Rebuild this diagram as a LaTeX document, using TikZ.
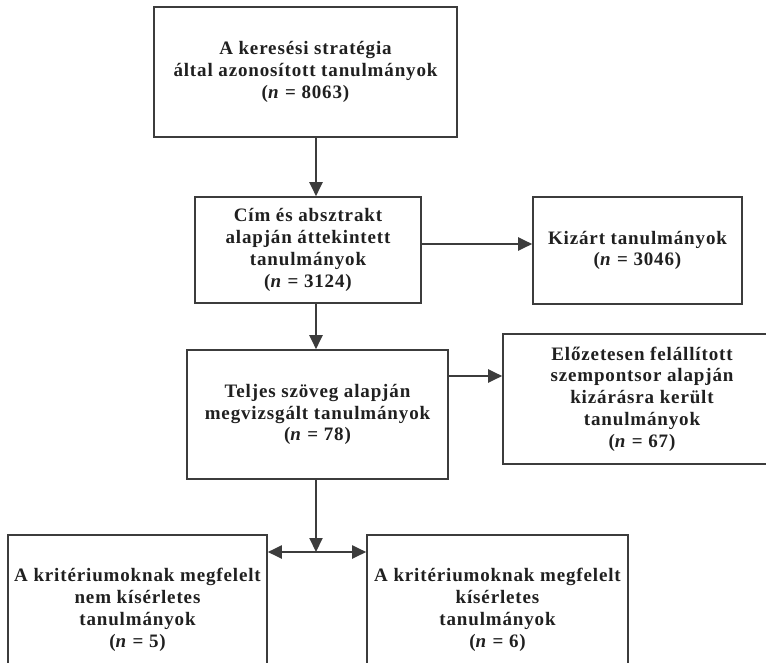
\documentclass[tikz,border=0pt]{standalone}
\usepackage{fontspec}
\setmainfont{Liberation Serif}[LetterSpace=4.5]
\usepackage{tikz}
\usetikzlibrary{calc,arrows.meta,positioning}
\usepackage{xcolor}
\definecolor{linegray}{HTML}{3C3C3C}
\definecolor{textgray}{HTML}{202020}

\begin{document}
\begin{tikzpicture}
	[   x=1pt,y=-1pt,
		fbox/.style args={#1/#2}{draw=linegray,line width=1.6pt,fill=white,align=center,text=textgray,
			minimum width=#1,minimum height=#2,inner sep=0pt,font=\fontsize{19}{21.8}\selectfont\bfseries},
	]
	\tikzset{normal arrow/.style={draw=linegray,line width=2pt,-{Triangle[length=14pt,width=13pt]}}}
	\useasboundingbox (0,0) rectangle (766,662);
	
	\node[fbox=303pt/130pt] (search) at (305.5,72) {A keresési stratégia\\által azonosított tanulmányok\\(\textit{n} = 8063)};
	\node[fbox=226pt/106pt] (screen) at (308,250) {Cím és absztrakt\\alapján áttekintett\\tanulmányok\\(\textit{n} = 3124)};
	\node[fbox=209pt/107pt] (excl-1) at (637.5,250.5) {Kizárt tanulmányok\\(\textit{n} = 3046)};
	\node[fbox=261pt/129pt] (full) at (317.5,414.5) {Teljes szöveg alapján\\megvizsgált tanulmányok\\(\textit{n} = 78)};
	\node[fbox=278pt/130pt] (excl-2) at (642,399) {Előzetesen felállított\\szempontsor alapján\\kizárásra került\\tanulmányok\\(\textit{n} = 67)};
	\node[fbox=259pt/150pt] (incl-1) at (137.5,610) {A kritériumoknak megfelelt\\nem kísérletes\\tanulmányok\\(\textit{n} = 5)};
	\node[fbox=261pt/150pt] (incl-2) at (497.5,610) {A kritériumoknak megfelelt\\kísérletes\\tanulmányok\\(\textit{n} = 6)};
	
	\coordinate (spine) at (316,0);
	\coordinate (split) at (316,552);
	
	\path[normal arrow] (search.south -| spine) -- (screen.north -| spine);
	\path[normal arrow] (screen.south -| spine) -- (full.north -| spine);
	\path[normal arrow] ([yshift=6pt]screen.east) -- ([yshift=6pt]screen.east -| excl-1.west);
	\path[normal arrow] ([yshift=38.5pt]full.east) -- ([yshift=38.5pt]full.east -| excl-2.west);
	\path[normal arrow] (full.south -| spine) -- (split);
	\path[normal arrow,{Triangle[length=14pt,width=13pt]}-{Triangle[length=14pt,width=13pt]}] (split -| incl-1.east) -- (split -| incl-2.west);

\end{tikzpicture}
\end{document}
